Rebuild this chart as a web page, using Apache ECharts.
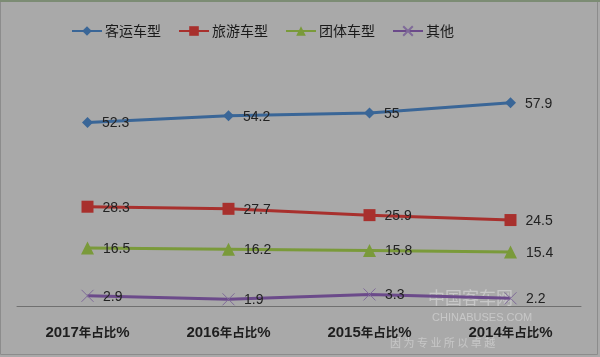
<!DOCTYPE html>
<html><head><meta charset="utf-8">
<script src="https://cdn.jsdelivr.net/npm/echarts@6/dist/echarts.min.js"></script>
<style>html,body{margin:0;padding:0;background:#a9a9a9}#c{width:600px;height:357px}</style>
</head><body><div id="c"></div>
<script>
const categories = ['2017年占比%', '2016年占比%', '2015年占比%', '2014年占比%'];
const seriesNames = ['客运车型', '旅游车型', '团体车型', '其他'];
const keyun = [52.3, 54.2, 55, 57.9];
const lvyou = [28.3, 27.7, 25.9, 24.5];
const tuanti = [16.5, 16.2, 15.8, 15.4];
const qita = [2.9, 1.9, 3.3, 2.2];

const colors = ['#3a6697', '#a8302d', '#7a9a3a', '#6b4a8a'];
const symbols = ['diamond', 'rect', 'triangle', 'path://M0,0 L10,10 M10,0 L0,10'];
const sizes = [11, 12, 13, 12];
const dataSets = [keyun, lvyou, tuanti, qita];
const font = '"Noto Sans CJK SC", "Noto Sans", sans-serif';
const numFont = '"Liberation Sans", Arial, sans-serif';

const chart = echarts.init(document.getElementById('c'));
chart.setOption({
  backgroundColor: '#a9a9a9',
  animation: false,
  textStyle: { fontFamily: font },
  legend: {
    top: 19, left: 66, itemWidth: 30, itemHeight: 12, itemGap: 17,
    textStyle: { fontSize: 14, color: '#1a1a1a', fontFamily: font, padding: [0, 0, 0, -2] },
    data: seriesNames
  },
  grid: { left: 17, right: 19, top: 95.5, bottom: 51, containLabel: false },
  xAxis: {
    type: 'category', data: categories, boundaryGap: true,
    axisLine: { lineStyle: { color: '#707070', width: 1 } },
    axisTick: { show: false },
    axisLabel: {
      margin: 19, interval: 0, hideOverlap: false,
      formatter: v => {
        const m = v.match(/^(\d+)(.*?)(%)$/);
        return m ? '{d|' + m[1] + '}{c|' + m[2] + '}{d|' + m[3] + '}' : v;
      },
      rich: {
        d: { fontSize: 15, fontWeight: 'bold', color: '#1e1e1e', fontFamily: numFont },
        c: { fontSize: 12.5, fontWeight: 'bold', color: '#1e1e1e', fontFamily: font }
      }
    }
  },
  yAxis: { type: 'value', min: 0, max: 60, show: false, splitLine: { show: false } },
  series: dataSets.map((d, i) => ({
    name: seriesNames[i], type: 'line', data: d,
    symbol: symbols[i], symbolSize: sizes[i], showAllSymbol: true,
    lineStyle: { color: colors[i], width: 3 },
    itemStyle: i === 3 ? { color: 'transparent', borderColor: '#7f6a99', borderWidth: 1 } : { color: colors[i] },
    label: { show: true, position: 'right', distance: 9, fontSize: 14, color: '#222', fontFamily: numFont, offset: [0, 1] }
  })),
  graphic: [
    { type: 'rect', shape: { x: 0.5, y: 0.5, width: 597, height: 354 }, style: { fill: 'none', stroke: '#8c8c8c', lineWidth: 1 }, silent: true },
    { type: 'rect', shape: { x: 0, y: 0, width: 600, height: 2 }, style: { fill: '#7c8c74' }, silent: true },
    { type: 'text', left: 428, top: 289, z: 0, style: { text: '中国客车网', fill: 'rgba(255,255,255,0.35)', font: '17px "Noto Sans CJK SC"' }, silent: true },
    { type: 'text', left: 432, top: 312, z: 0, style: { text: 'CHINABUSES.COM', fill: 'rgba(255,255,255,0.35)', font: '11px "Liberation Sans"' }, silent: true },
    { type: 'text', left: 390, top: 337, z: 0, style: { text: '因 为 专 业 所 以 卓 越', fill: 'rgba(255,255,255,0.35)', font: '11px "Noto Sans CJK SC"' }, silent: true }
  ]
});
</script></body></html>
